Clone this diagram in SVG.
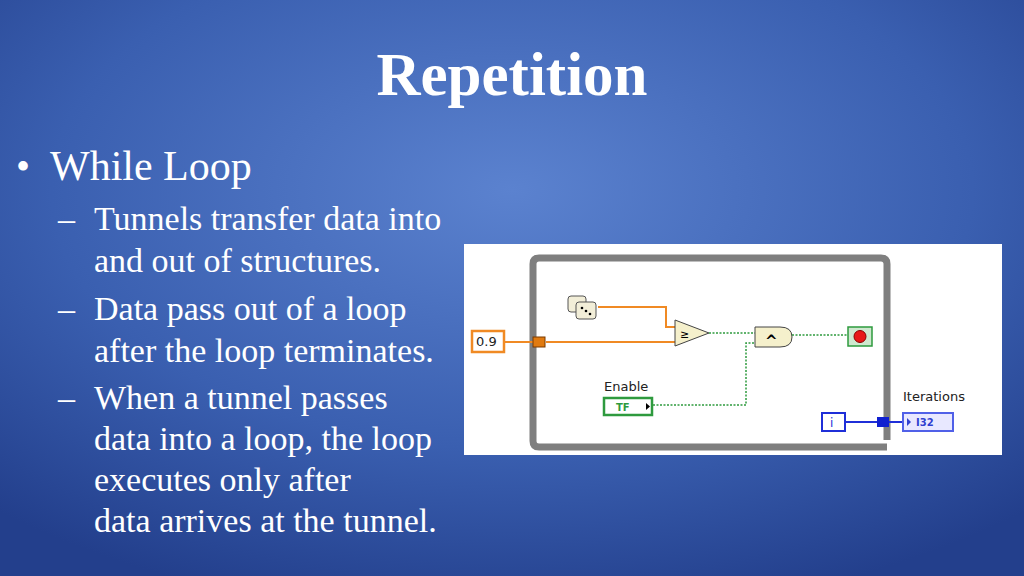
<svg xmlns="http://www.w3.org/2000/svg" width="1024" height="576" viewBox="0 0 1024 576">
<defs>
<radialGradient id="bg" cx="0.5" cy="0.33" r="0.75">
<stop offset="0" stop-color="#5b82cf"/>
<stop offset="0.6" stop-color="#3a5fb0"/>
<stop offset="1" stop-color="#233f8c"/>
</radialGradient>
<style>
.t{font-family:"Liberation Serif",serif;fill:#fff}
.s{font-size:34px}
.l{font-family:"DejaVu Sans",sans-serif;font-size:13px;fill:#222}
.ow{stroke:#f08a24;stroke-width:2;fill:none}
.gw{stroke:#2e9a3e;stroke-width:1.5;stroke-dasharray:2 1.5;fill:none}
.bw{stroke:#1f2fd8;stroke-width:2;fill:none}
</style>
</defs>
<rect width="1024" height="576" fill="url(#bg)"/>
<text class="t" x="512" y="95" text-anchor="middle" font-size="61" font-weight="bold">Repetition</text>
<text class="t" x="16" y="180" font-size="40">•</text>
<text class="t" x="50" y="180" font-size="42">While Loop</text>
<g class="t s">
<text x="58" y="230">–</text><text x="94" y="230">Tunnels transfer data into</text>
<text x="94" y="272">and out of structures.</text>
<text x="58" y="320">–</text><text x="94" y="320">Data pass out of a loop</text>
<text x="94" y="362">after the loop terminates.</text>
<text x="58" y="409">–</text><text x="94" y="409">When a tunnel passes</text>
<text x="94" y="450">data into a loop, the loop</text>
<text x="94" y="491">executes only after</text>
<text x="94" y="532">data arrives at the tunnel.</text>
</g>
<g id="panel"><rect x="464" y="244" width="538" height="211" fill="#fff"/></g>
<g id="loop"><path d="M887 440 V264 Q887 258 881 258 H539 Q533 258 533 264 V441 Q533 447 539 447 H887" fill="none" stroke="#7f7f7f" stroke-width="7"/></g>
<g id="connectors">
<path class="ow" d="M504 342 H533 M546 342 H675"/>
<path class="ow" d="M598 307 H666 V327 H675"/>
<path class="gw" d="M709 333 H755 M792 335 H848"/>
<path class="gw" d="M653 405 H746 V343 H755"/>
<path class="bw" d="M846 422 H877 M889 422 H903"/>
</g>
<g id="const09"><rect x="472" y="331" width="32" height="21" fill="#fff" stroke="#f08a24" stroke-width="2.5"/><text class="l" x="476" y="346">0.9</text></g>
<g id="tunnelIn"><rect x="533" y="337" width="12" height="10" fill="#e07a10" stroke="#7a3a00"/></g>
<g id="dice"><rect x="568" y="296" width="18" height="16" rx="3" fill="#f2eed8" stroke="#555"/><rect x="576" y="302" width="20" height="17" rx="3" fill="#f2eed8" stroke="#555"/><circle cx="582" cy="308" r="1.3"/><circle cx="586" cy="311" r="1.3"/><circle cx="590" cy="314" r="1.3"/></g>
<g id="compare"><path d="M675 320 L709 333 L675 346 Z" fill="#f5f0cc" stroke="#444"/><text x="680" y="338" font-family="DejaVu Sans,sans-serif" font-size="11">≥</text></g>
<g id="and"><path d="M755 327 H780 Q792 327 792 337 Q792 347 780 347 H755 Z" fill="#f5f0cc" stroke="#444"/><text x="765" y="346" font-family="DejaVu Sans,sans-serif" font-size="15" font-weight="bold">^</text></g>
<g id="stop"><rect x="848" y="327" width="24" height="19" fill="#cfe8cf" stroke="#2e9a3e" stroke-width="1.5"/><circle cx="860" cy="336.5" r="6" fill="#e81818" stroke="#800"/></g>
<g id="enable"><text class="l" x="604" y="391">Enable</text><rect x="604" y="398" width="48" height="17" fill="#fff" stroke="#2e9a3e" stroke-width="2.5"/><text x="616" y="411" font-family="DejaVu Sans,sans-serif" font-size="10" font-weight="bold" fill="#2e9a3e">TF</text><path d="M646 403 L650 406.5 L646 410 Z"/></g>
<g id="iter"><rect x="822" y="413" width="23" height="18" fill="#fff" stroke="#1f2fd8" stroke-width="2"/><text x="830" y="427" font-family="DejaVu Sans,sans-serif" font-size="12" fill="#1f2fd8">i</text></g>
<g id="tunnelOut"><rect x="877" y="417" width="12" height="10" fill="#1020d0"/></g>
<g id="iterations"><text class="l" x="903" y="401">Iterations</text><rect x="903" y="413" width="50" height="18" fill="#e8e8ff" stroke="#5060e8" stroke-width="2"/><text x="916" y="426" font-family="DejaVu Sans,sans-serif" font-size="10" font-weight="bold" fill="#3040d0">I32</text><path d="M907 418 L911 422 L907 426 Z" fill="#3040d0"/></g>
</svg>
